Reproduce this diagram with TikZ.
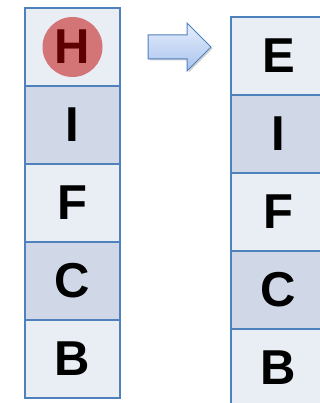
\documentclass[tikz,border=0pt]{standalone}
\usepackage{fontspec}
\setmainfont{Liberation Sans}
\usetikzlibrary{positioning,shadows}

\definecolor{rowborder}{HTML}{4F81BD}
\definecolor{rowlight}{HTML}{E9EDF4}
\definecolor{rowdark}{HTML}{D0D8E8}
\definecolor{markfill}{HTML}{D37477}
\definecolor{markletter}{HTML}{5E0000}
\definecolor{arrowtop}{HTML}{E6EEFC}
\definecolor{arrowbottom}{HTML}{A9C3EE}

\tikzset{
  cell/.style={draw=rowborder, line width=2pt, minimum width=95pt, minimum height=78pt,
    inner sep=0pt, outer sep=0pt, font=\fontsize{49}{49}\selectfont\bfseries},
  lightcell/.style={cell, fill=rowlight},
  darkcell/.style={cell, fill=rowdark},
  markdot/.style={circle, fill=markfill, minimum size=60pt, inner sep=0pt,
    text=markletter, font=\fontsize{49}{49}\selectfont\bfseries},
}

\begin{document}
\begin{tikzpicture}[x=1pt, y=-1pt]

  \useasboundingbox (0,0) rectangle (320,403);
  \clip (0,0) rectangle (320,403);

  % cot ben trai
  \node[lightcell] (L1) at (72.5,47) {};
  \node[markdot] (hmark) at (L1) {H};
  \foreach \i/\t/\s in {2/I/darkcell,3/F/lightcell,4/C/darkcell,5/B/lightcell} {
    \pgfmathtruncatemacro\j{\i-1}
    \node[\s, below=0pt of L\j] (L\i) {\t};
  }

  % mui ten
  \draw[rowborder, line width=1pt, top color=arrowtop, bottom color=arrowbottom,
        drop shadow={shadow xshift=1.5pt, shadow yshift=-1.5pt, fill=black!35}]
    (148,35) -- (187,35) -- (187,23) -- (211,47) -- (187,71) -- (187,59) -- (148,59) -- cycle;

  % cot ben phai
  \node[lightcell] (R1) at (278.5,56) {E};
  \foreach \i/\t/\s in {2/I/darkcell,3/F/lightcell,4/C/darkcell,5/B/lightcell} {
    \pgfmathtruncatemacro\j{\i-1}
    \node[\s, below=0pt of R\j] (R\i) {\t};
  }

\end{tikzpicture}
\end{document}
